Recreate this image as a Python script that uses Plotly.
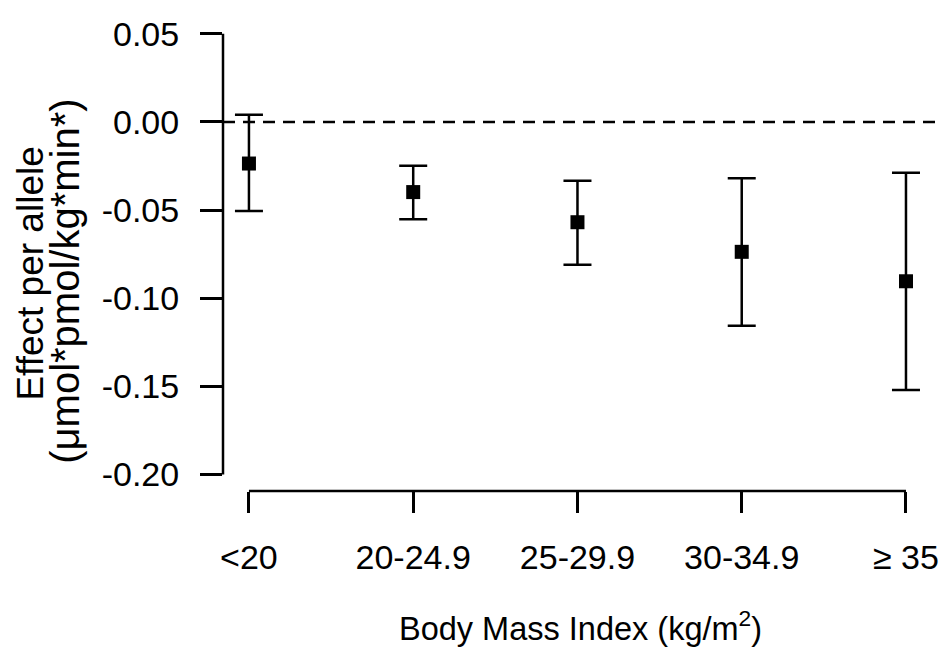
import plotly.graph_objects as go

categories = ["<20", "20-24.9", "25-29.9", "30-34.9", "\u2265 35"]
positions = [1, 2, 3, 4, 5]
estimate = [-0.0236, -0.0398, -0.0569, -0.0737, -0.0904]
lower = [-0.0506, -0.0552, -0.0811, -0.1157, -0.1521]
upper = [0.0041, -0.0249, -0.0333, -0.0319, -0.0289]
y_ticks = [0.05, 0.00, -0.05, -0.10, -0.15, -0.20]
y_ticktext = ["0.05", "0.00", "-0.05", "-0.10", "-0.15", "-0.20"]

FONT = "Liberation Sans, Arial, sans-serif"

err_plus = [u - e for u, e in zip(upper, estimate)]
err_minus = [e - l for e, l in zip(estimate, lower)]

fig = go.Figure()
fig.add_trace(go.Scatter(
    x=positions, y=estimate, mode="markers",
    marker=dict(symbol="square", size=14, color="black"),
    error_y=dict(type="data", symmetric=False, array=err_plus, arrayminus=err_minus,
                 color="black", thickness=2.5, width=14),
    showlegend=False, hoverinfo="skip",
))

# dashed zero line
fig.add_shape(type="line", xref="paper", yref="y", x0=0, x1=1, y0=0, y1=0,
              line=dict(color="black", width=2.5, dash="12px,8px"))
# y axis line (from first to last tick)
fig.add_shape(type="line", xref="paper", yref="y", x0=0, x1=0,
              y0=min(y_ticks), y1=max(y_ticks), line=dict(color="black", width=2.5))
# x axis line (from first to last category)
fig.add_shape(type="line", xref="x", yref="paper", x0=positions[0], x1=positions[-1],
              y0=0, y1=0, line=dict(color="black", width=2.5))

fig.update_xaxes(
    range=[0.842, 5.201], tickmode="array", tickvals=positions, ticktext=categories,
    showgrid=False, zeroline=False, showline=False,
    ticks="outside", ticklen=21, tickwidth=2.5, tickcolor="black",
    tickfont=dict(family=FONT, size=34, color="black"), ticklabelstandoff=15,
    ticklabeloverflow="allow",
)
fig.update_yaxes(
    range=[-0.2094, 0.055], tickmode="array", tickvals=y_ticks, ticktext=y_ticktext,
    showgrid=False, zeroline=False, showline=False,
    ticks="outside", ticklen=22, tickwidth=2.5, tickcolor="black",
    tickfont=dict(family=FONT, size=34, color="black"), ticklabelstandoff=14,
    ticklabeloverflow="allow",
)

fig.add_annotation(text="Effect per allele", xref="paper", yref="paper",
                   x=-0.2685, y=0.466, textangle=-90, showarrow=False,
                   xanchor="center", yanchor="middle", borderpad=0,
                   font=dict(family=FONT, size=37, color="black"))
fig.add_annotation(text="(\u03bcmol*pmol/kg*min*)", xref="paper", yref="paper",
                   x=-0.22, y=0.45, textangle=-90, showarrow=False,
                   xanchor="center", yanchor="middle", borderpad=0,
                   font=dict(family=FONT, size=40, color="black"))
fig.add_annotation(text="Body Mass Index (kg/m<sup>2</sup>)", xref="paper", yref="paper",
                   x=(580 - 223) / 716, y=-(629 - 491) / 476, showarrow=False,
                   xanchor="center", yanchor="middle",
                   font=dict(family=FONT, size=32.5, color="black"))

# page body has an 8px default margin: size the figure to fit the remaining window
fig.update_layout(
    width=939, height=648,
    margin=dict(l=215, r=8, t=7, b=165),
    paper_bgcolor="white", plot_bgcolor="white",
)

fig.write_html("out.html")
